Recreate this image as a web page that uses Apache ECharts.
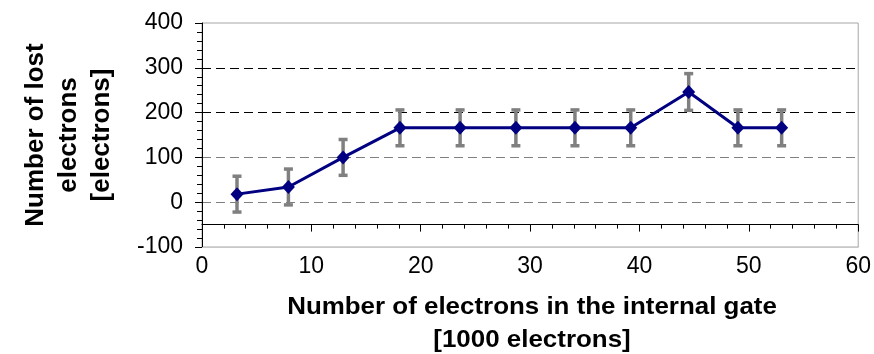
<!DOCTYPE html>
<html>
<head>
<meta charset="utf-8">
<script src="https://cdn.jsdelivr.net/npm/echarts@6/dist/echarts.min.js"></script>
<style>
html,body{margin:0;padding:0;background:#fff;}
#chart{width:874px;height:354px;}
</style>
</head>
<body>
<div id="chart"></div>
<script>
// ---- data ----
const xValues = [3.2, 7.9, 12.9, 18.1, 23.6, 28.7, 34.1, 39.2, 44.5, 49.0, 53.0];
const yValues = [18, 34, 100, 166, 166, 166, 166, 166, 246, 166, 166];
const yErrors = [40, 40, 40, 40, 40, 40, 40, 40, 41, 40, 40];
const xTicks = [0, 10, 20, 30, 40, 50, 60];
const yTicks = [-100, 0, 100, 200, 300, 400];
const xTitle = 'Number of electrons in the internal gate\n[1000 electrons]';
const yTitle = 'Number of lost\nelectrons\n[electrons]';
const axisCross = -50;

const FONT = '"Liberation Sans", Arial, sans-serif';
const lineData = xValues.map((x, i) => [x, yValues[i]]);
const errData = xValues.map((x, i) => [x, yValues[i] - yErrors[i], yValues[i] + yErrors[i]]);

const chart = echarts.init(document.getElementById('chart'), null, {renderer: 'canvas'});
const yMin = yTicks[0], yMax = yTicks[yTicks.length - 1];
const yStep = yTicks[1] - yTicks[0];

chart.setOption({
  backgroundColor: '#ffffff',
  animation: false,
  graphic: [{
    type: 'text',
    x: 532, y: 291,
    scaleX: 1.08,
    style: {
      text: xTitle,
      font: 'bold 24px ' + FONT,
      fill: '#000',
      align: 'center',
      verticalAlign: 'top',
      lineHeight: 33
    }
  }],
  grid: {left: 202, right: 14, top: 23, bottom: 107, show: true, borderColor: '#a6a6a6', borderWidth: 1, backgroundColor: 'transparent'},
  xAxis: [
    {
      type: 'value', position: 'bottom',
      min: xTicks[0], max: xTicks[xTicks.length - 1], interval: xTicks[1] - xTicks[0],
      axisLine: {show: true, onZero: false, lineStyle: {color: '#c8c8c8', width: 1}},
      axisTick: {show: false},
      splitLine: {show: false},
      axisLabel: {fontFamily: FONT, fontSize: 23, color: '#000', margin: 8}
    },
    {
      type: 'value', position: 'top',
      min: xTicks[0], max: xTicks[xTicks.length - 1], interval: xTicks[1] - xTicks[0],
      axisLine: {show: true, onZero: true, onZeroAxisIndex: 1, lineStyle: {color: '#000', width: 1}},
      axisTick: {show: true, inside: true, length: 7, lineStyle: {color: '#000', width: 1}},
      minorTick: {show: true, splitNumber: 5, length: 4, lineStyle: {color: '#000', width: 1}},
      splitLine: {show: false},
      axisLabel: {show: false}
    }
  ],
  yAxis: [
    {
      type: 'value', position: 'left',
      min: yMin, max: yMax, interval: yStep,
      name: yTitle, nameLocation: 'middle', nameGap: 84,
      nameTextStyle: {fontFamily: FONT, fontSize: 26, fontWeight: 'bold', color: '#000', lineHeight: 33, align: 'center'},
      axisLine: {show: true, lineStyle: {color: '#000', width: 1}},
      axisTick: {show: true, inside: false, length: 7, lineStyle: {color: '#000', width: 1}},
      minorTick: {show: true, splitNumber: 5, length: 5, lineStyle: {color: '#000', width: 1}},
      splitLine: {
        show: true, showMinLine: true, showMaxLine: true,
        lineStyle: {color: ['rgba(0,0,0,0)', '#808080', '#808080', '#000000', '#000000', 'rgba(0,0,0,0)'], type: [9, 5], width: 1}
      },
      axisLabel: {fontFamily: FONT, fontSize: 23, color: '#000', margin: 19}
    },
    {
      type: 'value', position: 'right', show: false,
      min: yMin - axisCross, max: yMax - axisCross,
      splitLine: {show: false}
    }
  ],
  series: [
    {
      type: 'custom',
      xAxisIndex: 0, yAxisIndex: 0,
      z: 2,
      data: errData,
      renderItem: function (params, api) {
        const x = api.value(0);
        const lo = api.coord([x, api.value(1)]);
        const hi = api.coord([x, api.value(2)]);
        const hw = 4.5;
        const style = {stroke: '#808080', lineWidth: 3.5, fill: null};
        return {
          type: 'group',
          children: [
            {type: 'line', shape: {x1: lo[0], y1: lo[1], x2: hi[0], y2: hi[1]}, style: style},
            {type: 'line', shape: {x1: lo[0] - hw, y1: lo[1], x2: lo[0] + hw, y2: lo[1]}, style: style},
            {type: 'line', shape: {x1: hi[0] - hw, y1: hi[1], x2: hi[0] + hw, y2: hi[1]}, style: style}
          ]
        };
      }
    },
    {
      type: 'line',
      xAxisIndex: 0, yAxisIndex: 0,
      z: 3,
      data: lineData,
      symbol: 'diamond',
      symbolSize: [13, 14],
      lineStyle: {color: '#000080', width: 3},
      itemStyle: {color: '#000080'}
    }
  ]
});
</script>
</body>
</html>
